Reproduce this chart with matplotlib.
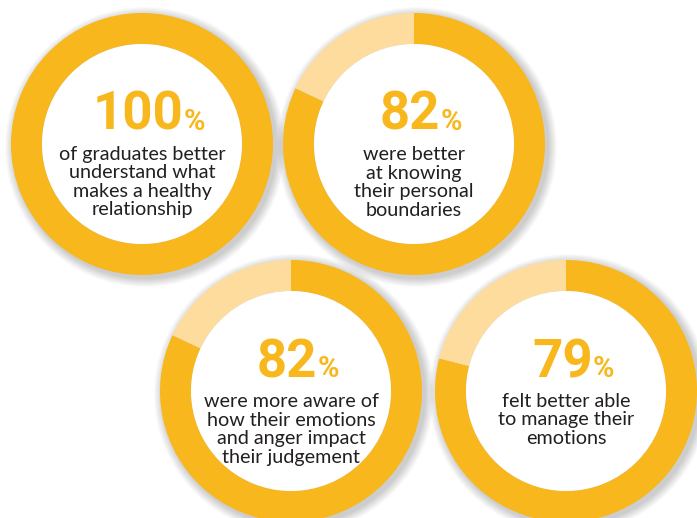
import matplotlib
matplotlib.use("Agg")
import matplotlib.pyplot as plt
from matplotlib.patches import Circle

W, H = 697, 518

# survey results, one ring per statement
pcts = [100, 82, 82, 79]
captions = [
    ["of graduates better", "understand what", "makes a healthy", "relationship"],
    ["were better", "at knowing", "their personal", "boundaries"],
    ["were more aware of", "how their emotions", "and anger impact", "their judgement"],
    ["felt better able", "to manage their", "emotions"],
]
# ring centres in pixels, measured from the top-left corner
centres = [(142, 144), (414, 144), (291, 391), (566, 391)]

R_OUT, R_IN = 131, 100
DARK = "#F8B71C"
LIGHT = "#FDDC9D"
INK = "#231F20"

NUM_FONT = ["Liberation Sans Narrow", "Roboto", "DejaVu Sans"]
BODY_FONT = ["Lato", "DejaVu Sans"]

fig = plt.figure(figsize=(W / 100, H / 100), dpi=100)
ax = fig.add_axes([0, 0, 1, 1])


def Y(y):
    return H - y


# soft drop shadow behind each ring
for cx, cy in centres:
    for k in range(10, 0, -1):
        ax.add_patch(Circle((cx + 3, Y(cy + 3)), R_OUT + k * 0.9,
                            color="black", alpha=0.018, lw=0, zorder=1))

for (cx, cy), p in zip(centres, pcts):
    vals = [p, 100 - p] if p < 100 else [p]
    ax.pie(vals, colors=[DARK, LIGHT], startangle=90, counterclock=False,
           radius=R_OUT, center=(cx, Y(cy)),
           wedgeprops=dict(width=R_OUT - R_IN, linewidth=0), frame=False)
    ax.add_patch(Circle((cx, Y(cy)), R_IN, color="white", lw=0, zorder=2))

ax.set_xlim(0, W)
ax.set_ylim(0, H)
ax.set_aspect("equal")
ax.axis("off")

fig.canvas.draw()
renderer = fig.canvas.get_renderer()

for (cx, cy), p, lines in zip(centres, pcts, captions):
    base = cy - 14          # baseline of the big number
    num = ax.text(0, Y(base), f"{p}", fontsize=38, fontweight="bold",
                  family=NUM_FONT, color=DARK, ha="left", va="baseline", zorder=5)
    pc = ax.text(0, Y(base), "%", fontsize=21, fontweight="bold",
                 family=NUM_FONT, color=DARK, ha="left", va="baseline", zorder=5)
    w1 = num.get_window_extent(renderer).width
    w2 = pc.get_window_extent(renderer).width
    x0 = cx + 7 - (w1 + w2) / 2
    num.set_x(x0)
    pc.set_x(x0 + w1)

    for i, line in enumerate(lines):
        ax.text(cx, Y(cy + 16 + i * 18.5), line, fontsize=14.2, family=BODY_FONT,
                color=INK, ha="center", va="baseline", zorder=5)

fig.savefig("out.png", dpi=100, facecolor="white")
